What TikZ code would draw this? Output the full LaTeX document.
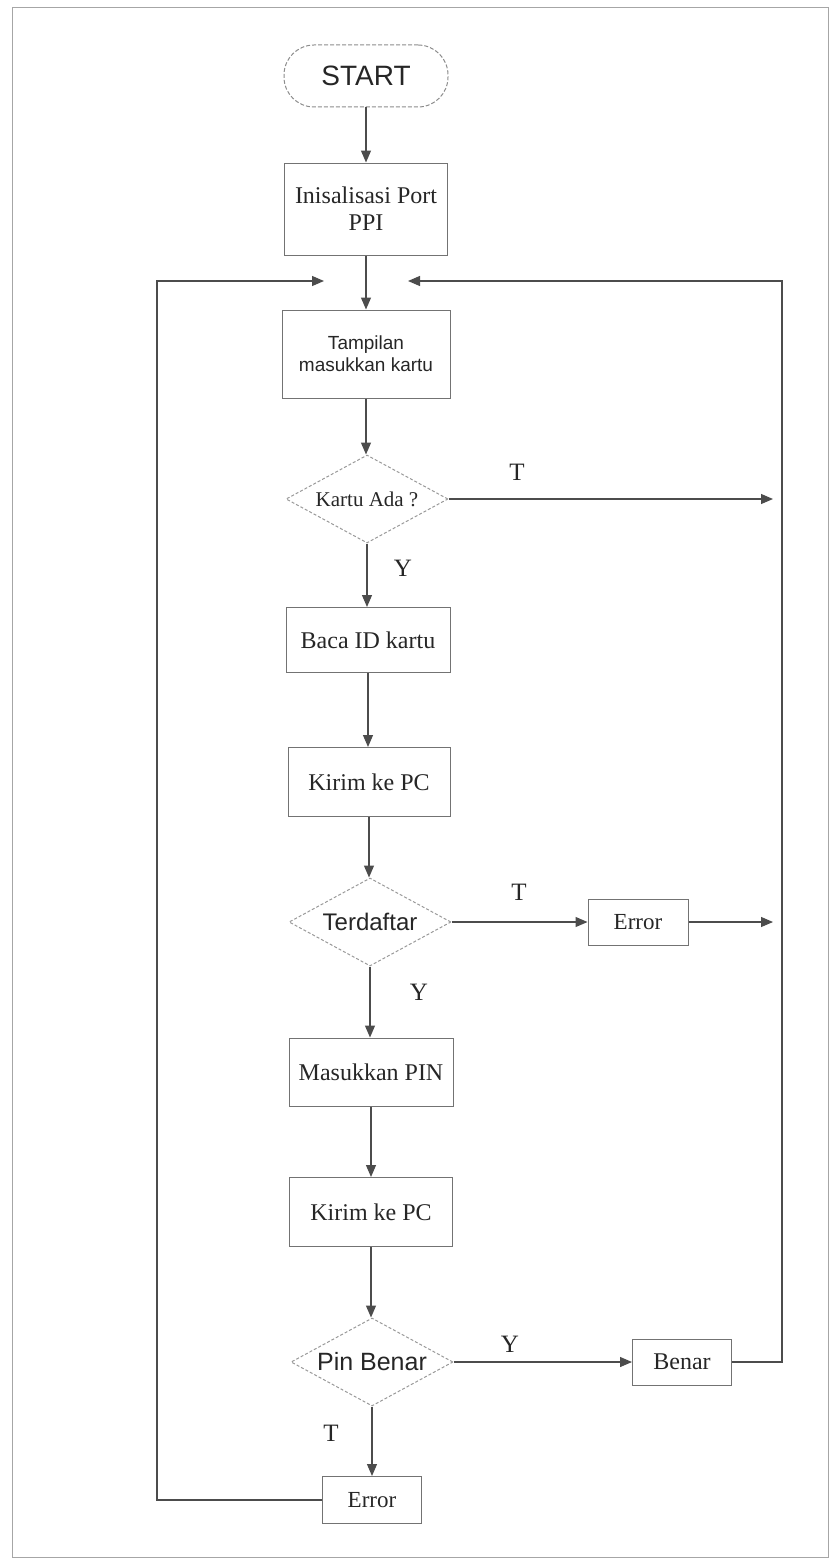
\documentclass[tikz,border=0pt]{standalone}
\usepackage{fontspec}
\setmainfont{Liberation Serif}
\setsansfont{Liberation Sans}
\usetikzlibrary{shapes.geometric,arrows.meta}

\begin{document}
\begin{tikzpicture}[x=1pt,y=-1pt,
  line/.style={draw=black!70,line width=1.2pt},
  arrow/.style={line,-{Triangle[length=12pt,width=10pt]}},
  proc/.style={rectangle,draw=black!55,line width=1pt,inner sep=0pt,text=black!85,align=center,font=\fontsize{24}{27}\selectfont},
  decision/.style={diamond,aspect=1.8,draw=black!40,line width=1pt,dash pattern=on 3pt off 2pt,inner sep=0pt,text=black!85,minimum width=162pt,minimum height=88pt,font=\sffamily\fontsize{24}{28}\selectfont},
  terminal/.style={rectangle,rounded corners=30pt,draw=black!45,line width=1pt,dash pattern=on 4pt off 2pt,text=black!85,minimum width=164pt,minimum height=62pt,font=\sffamily\fontsize{28}{32}\selectfont},
  lbl/.style={text=black!85,font=\fontsize{25}{30}\selectfont}]
\useasboundingbox (0,0) rectangle (831,1560);
\draw[black!35,line width=1pt] (12,8) rectangle (828,1557);
\node[terminal] (start) at (366,76) {START};
\node[proc,minimum width=163pt,minimum height=92pt] (init) at (366,209) {Inisalisasi Port\\PPI};
\node[proc,minimum width=168pt,minimum height=88pt,font=\sffamily\fontsize{19}{22}\selectfont] (tampil) at (366,354) {Tampilan\\masukkan kartu};
\node[decision,font=\fontsize{21}{24}\selectfont] (kartu) at (367,499) {Kartu Ada ?};
\node[proc,minimum width=164pt,minimum height=65pt] (baca) at (368,640) {Baca ID kartu};
\node[proc,minimum width=162pt,minimum height=69pt] (kirimA) at (369,782) {Kirim ke PC};
\node[decision] (daftar) at (370,922) {Terdaftar};
\node[proc,minimum width=100pt,minimum height=46pt,font=\fontsize{23}{26}\selectfont] (errorA) at (638,922) {Error};
\node[proc,minimum width=164pt,minimum height=68pt] (masuk) at (371,1072) {Masukkan PIN};
\node[proc,minimum width=163pt,minimum height=69pt] (kirimB) at (371,1212) {Kirim ke PC};
\node[decision,font=\sffamily\fontsize{25}{28}\selectfont] (pin) at (372,1362) {Pin Benar};
\node[proc,minimum width=99pt,minimum height=46pt] (benar) at (682,1362) {Benar};
\node[proc,minimum width=99pt,minimum height=47pt,font=\fontsize{23}{26}\selectfont] (errorB) at (372,1500) {Error};
\node[lbl] (tA) at (517,472) {T};
\node[lbl] (yA) at (403,568) {Y};
\node[lbl] (tB) at (519,892) {T};
\node[lbl] (yB) at (419,992) {Y};
\node[lbl] (yC) at (510,1344) {Y};
\node[lbl] (tC) at (331,1433) {T};
\coordinate (kiri) at (157,281);
\coordinate (kanan) at (782,281);
\coordinate (masukL) at (324,281);
\coordinate (masukR) at (408,281);
\draw[arrow] (start) -- (init);
\draw[arrow] (init) -- (tampil);
\draw[arrow] (tampil.south) -- (tampil.south |- kartu.north);
\draw[arrow] (kartu.south) -- (kartu.south |- baca.north);
\draw[arrow] (baca.south) -- (baca.south |- kirimA.north);
\draw[arrow] (kirimA.south) -- (kirimA.south |- daftar.north);
\draw[arrow] (daftar.south) -- (daftar.south |- masuk.north);
\draw[arrow] (masuk) -- (kirimB);
\draw[arrow] (kirimB.south) -- (kirimB.south |- pin.north);
\draw[arrow] (pin) -- (errorB);
\draw[arrow] (daftar) -- (errorA);
\draw[arrow] (pin) -- (benar);
\draw[arrow,shorten >=9pt] (kartu.east) -- (kartu.east -| kanan);
\draw[arrow,shorten >=9pt] (errorA.east) -- (errorA.east -| kanan);
\draw[arrow] (errorB.west) -| (kiri) -- (masukL);
\draw[arrow] (benar.east) -| (kanan) -- (masukR);
\end{tikzpicture}
\end{document}
